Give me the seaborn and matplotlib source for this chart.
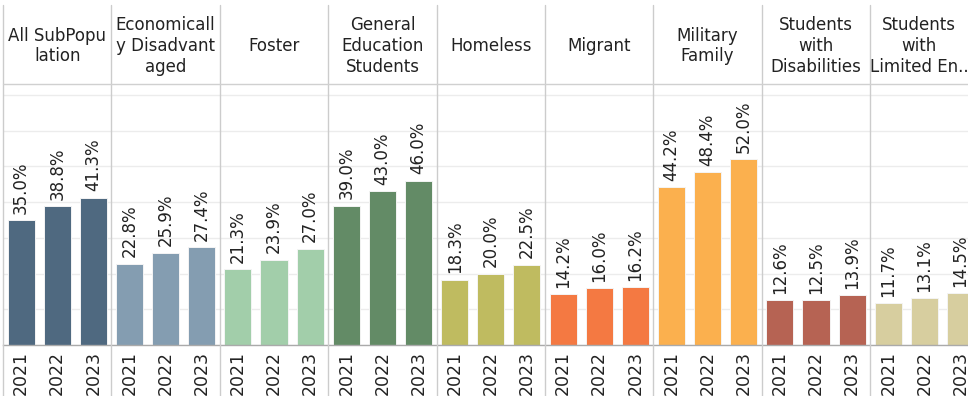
import matplotlib
matplotlib.use("Agg")
import matplotlib.pyplot as plt
import seaborn as sns
import pandas as pd
from matplotlib.lines import Line2D

groups = ["All SubPopulation", "Economically Disadvantaged", "Foster",
          "General Education Students", "Homeless", "Migrant",
          "Military Family", "Students with Disabilities",
          "Students with Limited English"]
headers = ["All SubPopu\nlation", "Economicall\ny Disadvant\naged", "Foster",
           "General\nEducation\nStudents", "Homeless", "Migrant",
           "Military\nFamily", "Students\nwith\nDisabilities",
           "Students\nwith\nLimited En.."]
years = ["2021", "2022", "2023"]
values = [
    [35.0, 38.8, 41.3],
    [22.8, 25.9, 27.4],
    [21.3, 23.9, 27.0],
    [39.0, 43.0, 46.0],
    [18.3, 20.0, 22.5],
    [14.2, 16.0, 16.2],
    [44.2, 48.4, 52.0],
    [12.6, 12.5, 13.9],
    [11.7, 13.1, 14.5],
]
colors = ["#4f6980", "#849db1", "#a2ceaa", "#638b66", "#bfbb60",
          "#f47942", "#fbb04e", "#b66353", "#d7ce9f"]

rows = []
for g, vals in zip(groups, values):
    for y, v in zip(years, vals):
        rows.append({"group": g, "year": y, "key": f"{g} {y}", "value": v})
df = pd.DataFrame(rows)

sns.set_style("white")
plt.rcParams["font.family"] = ["DejaVu Sans"]

W, H = 968, 396
fig = plt.figure(figsize=(W / 100, H / 100), dpi=100)

x0 = 3
panel_w = 108.4
slot_w = panel_w / 3
base_y = 345
top_y = 85
ax = fig.add_axes([x0 / W, (H - base_y) / H, (W - x0) / W, (base_y - top_y) / H])

sns.barplot(data=df, x="key", y="value", hue="group", palette=colors,
            dodge=False, legend=False, width=0.75, ax=ax, saturation=1,
            edgecolor="#f4f4f4", linewidth=0.7, order=list(df["key"]))

n_visible = (W - x0) / slot_w
ax.set_xlim(-0.5, -0.5 + n_visible)
ax.set_ylim(0, 72.8)
ax.set_yticks(range(0, 71, 10))
ax.yaxis.grid(True, color="#ececec", linewidth=1)
ax.set_axisbelow(True)
ax.set_yticklabels([])
ax.tick_params(axis="y", length=0)
ax.set_xlabel("")
ax.set_ylabel("")
ax.set_xticks(range(len(df)))
ax.set_xticklabels(list(df["year"]), rotation=90, fontsize=12.5, color="#222222")
ax.tick_params(axis="x", length=0, pad=4)
for s in ["top", "right", "left"]:
    ax.spines[s].set_visible(False)
ax.spines["bottom"].set_color("#aaaaaa")
ax.spines["bottom"].set_linewidth(1.0)

for i, row in df.iterrows():
    ax.annotate(f"{row['value']:.1f}%", (i, row["value"]), xytext=(0, 4.5),
                textcoords="offset points", rotation=90, ha="center",
                va="bottom", fontsize=12, color="#222222")

# header text
for k, h in enumerate(headers):
    left = x0 + panel_w * k
    right = min(left + panel_w, W)
    cx = (left + right) / 2
    cy = 46
    fig.text(cx / W, 1 - cy / H, h, ha="center", va="center", fontsize=12,
             color="#222222", linespacing=1.2)

# separators
for k in range(10):
    px = x0 + panel_w * k
    if px > W:
        break
    fig.add_artist(Line2D([px / W, px / W], [0, 1 - 5 / H],
                          color="#cccccc", linewidth=1.0,
                          transform=fig.transFigure))
fig.add_artist(Line2D([x0 / W, 1], [1 - 84 / H, 1 - 84 / H],
                      color="#d0d0d0", linewidth=1.0, transform=fig.transFigure))

fig.savefig("out.png", dpi=100)
